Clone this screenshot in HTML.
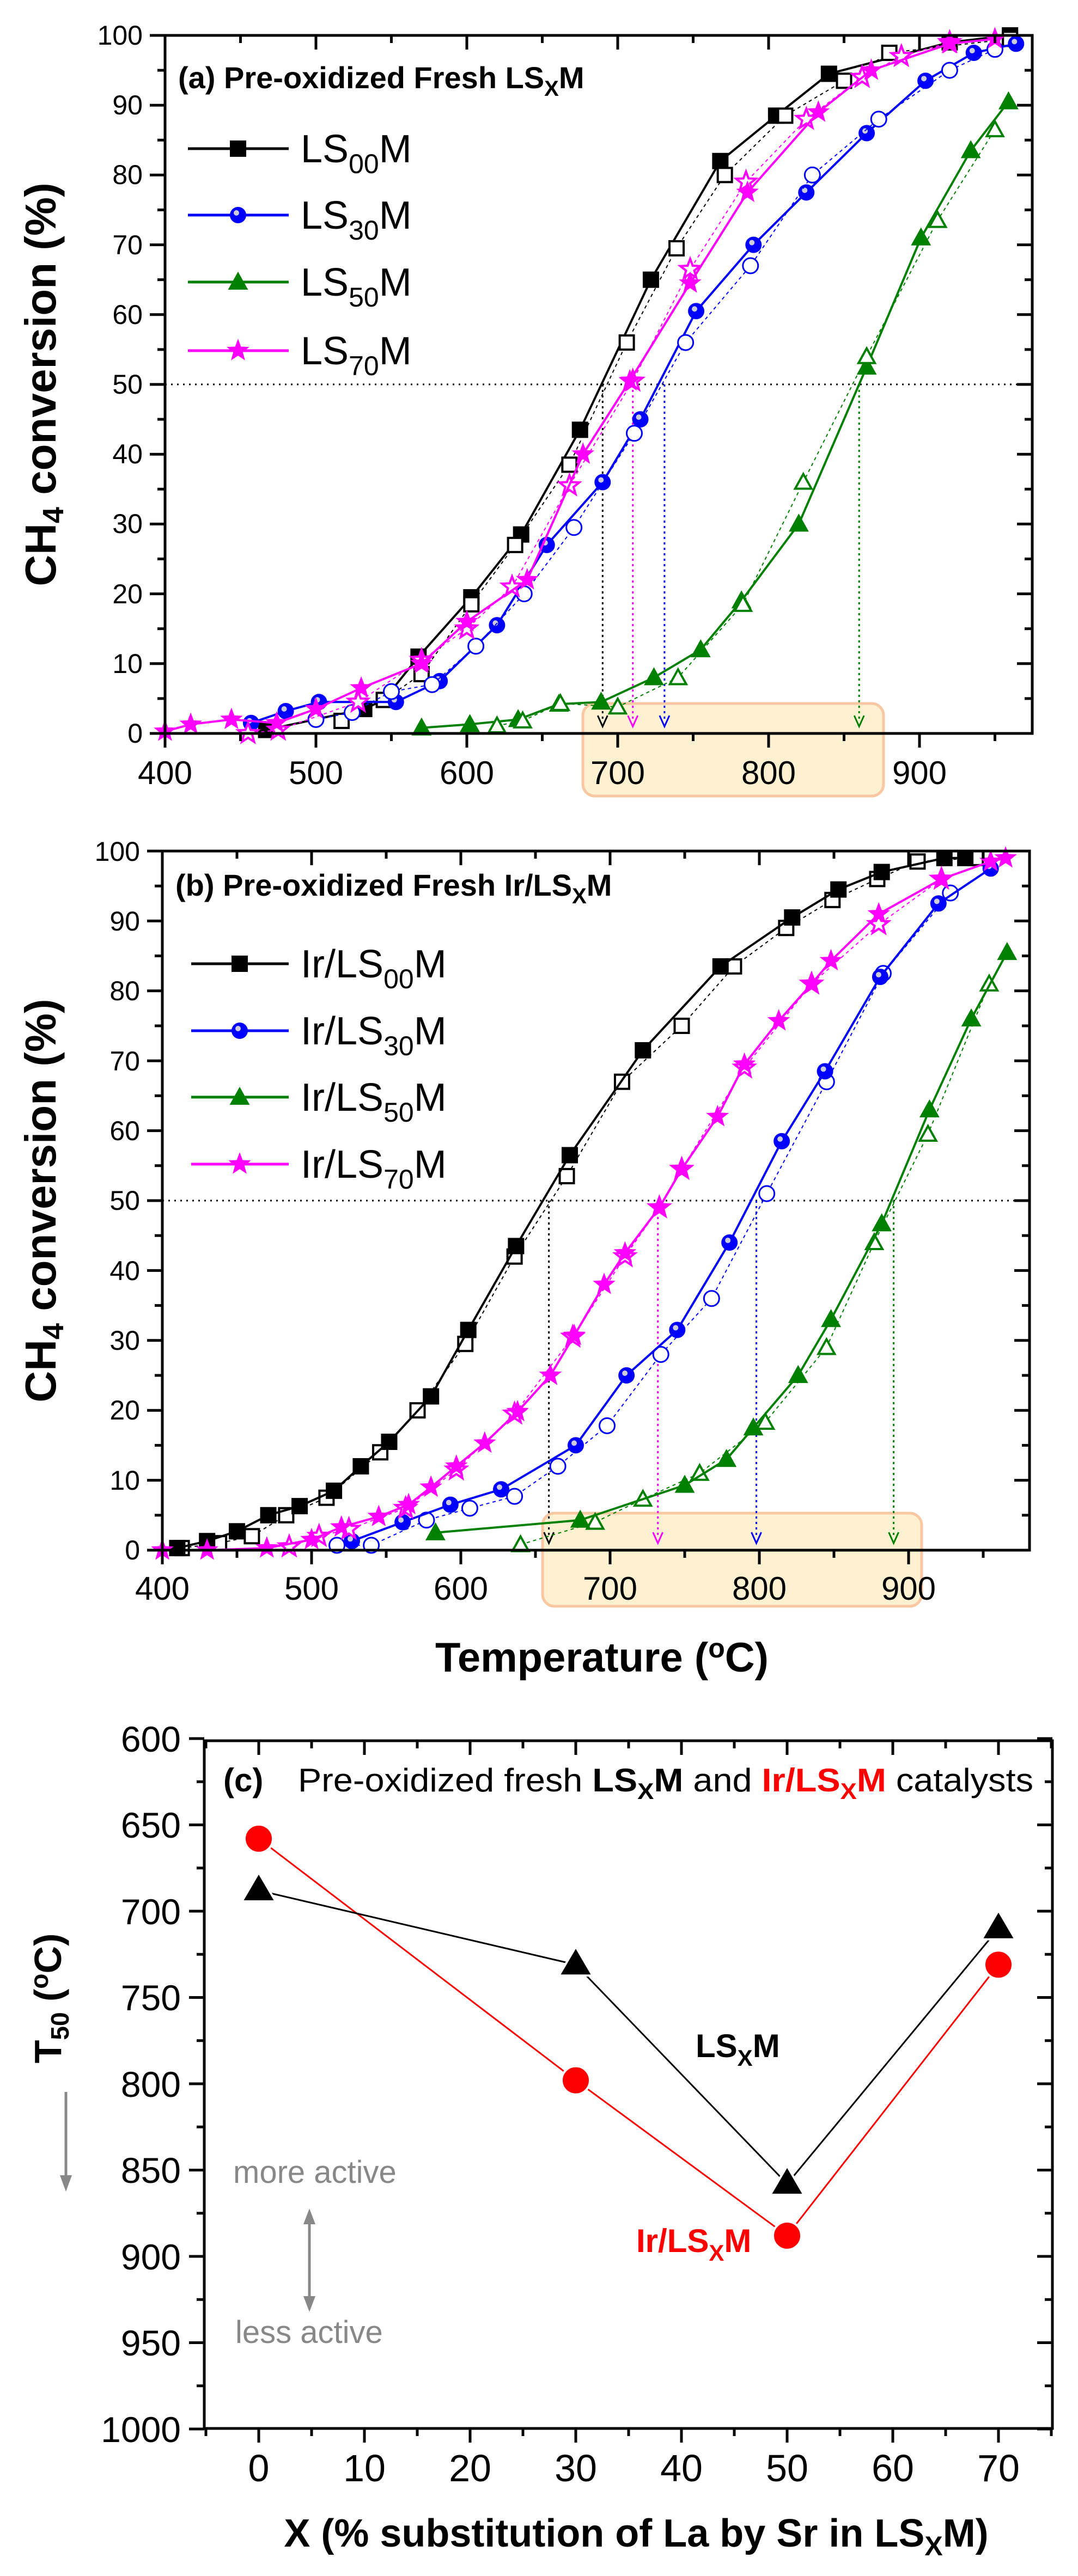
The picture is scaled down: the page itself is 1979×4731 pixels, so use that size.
<!DOCTYPE html>
<html><head><meta charset="utf-8"><style>
html,body{margin:0;padding:0;background:#fff;}
svg{display:block;font-family:"Liberation Sans",Arial,sans-serif;}
</style></head><body>
<svg id="s" width="1979" height="4731" viewBox="0 0 1979 4731" xmlns="http://www.w3.org/2000/svg">
<rect width="1979" height="4731" fill="#fff"/>
<rect x="1070" y="1292" width="552" height="170" rx="22" fill="#fdf1d2" stroke="#f9c8a3" stroke-width="5"/>
<rect x="996" y="2779" width="696" height="171" rx="22" fill="#fdf1d2" stroke="#f9c8a3" stroke-width="5"/>
<g id="ga"></g><g id="gb"></g><g id="gc"></g>

<g font-size="50" text-anchor="end">
<text x="262" y="1364">0</text><text x="262" y="1236">10</text><text x="262" y="1108">20</text><text x="262" y="979">30</text><text x="262" y="851">40</text><text x="262" y="723">50</text><text x="262" y="595">60</text><text x="262" y="467">70</text><text x="262" y="338">80</text><text x="262" y="210">90</text><text x="262" y="82">100</text>
</g>
<g font-size="60" text-anchor="middle">
<text x="303" y="1440">400</text><text x="580" y="1440">500</text><text x="857" y="1440">600</text><text x="1134" y="1440">700</text><text x="1411" y="1440">800</text><text x="1688" y="1440">900</text>
</g>
<text x="327" y="162" font-size="56" font-weight="bold">(a) Pre-oxidized Fresh LS<tspan font-size="40" dy="14">X</tspan><tspan dy="-14">M</tspan></text>
<g font-size="72">
<text x="552" y="298">LS<tspan font-size="50" dy="20">00</tspan><tspan dy="-20">M</tspan></text>
<text x="552" y="420">LS<tspan font-size="50" dy="20">30</tspan><tspan dy="-20">M</tspan></text>
<text x="552" y="543">LS<tspan font-size="50" dy="20">50</tspan><tspan dy="-20">M</tspan></text>
<text x="552" y="669">LS<tspan font-size="50" dy="20">70</tspan><tspan dy="-20">M</tspan></text>
</g>
<text transform="translate(102,706) rotate(-90)" text-anchor="middle" font-size="80" font-weight="bold">CH<tspan font-size="54" dy="14">4</tspan><tspan dy="-14"> conversion (%)</tspan></text>

<g font-size="50" text-anchor="end">
<text x="257" y="2864">0</text><text x="257" y="2736">10</text><text x="257" y="2607">20</text><text x="257" y="2479">30</text><text x="257" y="2351">40</text><text x="257" y="2222">50</text><text x="257" y="2094">60</text><text x="257" y="1966">70</text><text x="257" y="1837">80</text><text x="257" y="1709">90</text><text x="257" y="1581">100</text>
</g>
<g font-size="60" text-anchor="middle">
<text x="298" y="2938">400</text><text x="572" y="2938">500</text><text x="846" y="2938">600</text><text x="1120" y="2938">700</text><text x="1394" y="2938">800</text><text x="1668" y="2938">900</text>
</g>
<text x="322" y="1645" font-size="56" font-weight="bold">(b) Pre-oxidized Fresh Ir/LS<tspan font-size="40" dy="14">X</tspan><tspan dy="-14">M</tspan></text>
<g font-size="72">
<text x="552" y="1795">Ir/LS<tspan font-size="50" dy="20">00</tspan><tspan dy="-20">M</tspan></text>
<text x="552" y="1918">Ir/LS<tspan font-size="50" dy="20">30</tspan><tspan dy="-20">M</tspan></text>
<text x="552" y="2040">Ir/LS<tspan font-size="50" dy="20">50</tspan><tspan dy="-20">M</tspan></text>
<text x="552" y="2163">Ir/LS<tspan font-size="50" dy="20">70</tspan><tspan dy="-20">M</tspan></text>
</g>
<text transform="translate(102,2205) rotate(-90)" text-anchor="middle" font-size="80" font-weight="bold">CH<tspan font-size="54" dy="14">4</tspan><tspan dy="-14"> conversion (%)</tspan></text>
<text x="1105" y="3070" text-anchor="middle" font-size="76" font-weight="bold">Temperature (<tspan font-size="50" dy="-26">o</tspan><tspan dy="26">C)</tspan></text>

<g font-size="66" text-anchor="end">
<text x="332" y="3217">600</text><text x="332" y="3375">650</text><text x="332" y="3534">700</text><text x="332" y="3692">750</text><text x="332" y="3851">800</text><text x="332" y="4009">850</text><text x="332" y="4168">900</text><text x="332" y="4326">950</text><text x="332" y="4485">1000</text>
</g>
<g font-size="70" text-anchor="middle">
<text x="475" y="4557">0</text><text x="669" y="4557">10</text><text x="863" y="4557">20</text><text x="1057" y="4557">30</text><text x="1251" y="4557">40</text><text x="1445" y="4557">50</text><text x="1639" y="4557">60</text><text x="1833" y="4557">70</text>
</g>
<text x="1168" y="4677" text-anchor="middle" font-size="72" font-weight="bold">X (% substitution of La by Sr in LS<tspan font-size="50" dy="16">X</tspan><tspan dy="-16">M)</tspan></text>
<text x="410" y="3290" font-size="60" font-weight="bold">(c)</text>
<text x="547" y="3290" font-size="60" textLength="1350" lengthAdjust="spacingAndGlyphs">Pre-oxidized fresh <tspan font-weight="bold">LS</tspan><tspan font-weight="bold" font-size="42" dy="14">X</tspan><tspan font-weight="bold" dy="-14">M</tspan> and <tspan font-weight="bold" fill="#f00">Ir/LS</tspan><tspan font-weight="bold" fill="#f00" font-size="42" dy="14">X</tspan><tspan font-weight="bold" fill="#f00" dy="-14">M</tspan> catalysts</text>
<text x="1277" y="3778" font-size="60" font-weight="bold">LS<tspan font-size="42" dy="16">X</tspan><tspan dy="-16">M</tspan></text>
<text x="1168" y="4136" font-size="60" font-weight="bold" fill="#f00">Ir/LS<tspan font-size="42" dy="16">X</tspan><tspan dy="-16">M</tspan></text>
<text x="428" y="4009" font-size="58" fill="#888">more active</text>
<text x="432" y="4303" font-size="58" fill="#888">less active</text>
<text transform="translate(112,3670) rotate(-90)" text-anchor="middle" font-size="70" font-weight="bold">T<tspan font-size="46" dy="14">50</tspan><tspan dy="-14"> (</tspan><tspan font-size="46" dy="-24">o</tspan><tspan dy="24">C)</tspan></text>
<g stroke="#888" stroke-width="5" fill="#888">
<line x1="121" y1="3842" x2="121" y2="4000"/><polygon points="110,3995 132,3995 121,4025" stroke="none"/>
<line x1="568" y1="4080" x2="568" y2="4222"/><polygon points="557,4085 579,4085 568,4056" stroke="none"/><polygon points="557,4217 579,4217 568,4246" stroke="none"/>
</g>
</svg>
<script>
var NS="http://www.w3.org/2000/svg";
function el(g,n,a){var e=document.createElementNS(NS,n);for(var k in a)e.setAttribute(k,a[k]);g.appendChild(e);return e;}
function axes(g,L,T,R,B,xs,ys){
 el(g,'rect',{x:L,y:T,width:R-L,height:B-T,fill:'none',stroke:'#000','stroke-width':5});
 xs.forEach(function(t){var x=t[0],m=t[1];var l=m?26:14;
  el(g,'line',{x1:x,y1:B,x2:x,y2:B+l,stroke:'#000','stroke-width':5});
  el(g,'line',{x1:x,y1:T,x2:x,y2:T+l,stroke:'#000','stroke-width':5});});
 ys.forEach(function(t){var y=t[0],m=t[1];var l=m?28:14;
  el(g,'line',{x1:L-l,y1:y,x2:L,y2:y,stroke:'#000','stroke-width':5});
  el(g,'line',{x1:R-l,y1:y,x2:R,y2:y,stroke:'#000','stroke-width':5});});
}
function marker(g,type,x,y,c,filled){
 var sw=4;
 if(type=='sq'){el(g,'rect',{x:x-13,y:y-13,width:26,height:26,fill:filled?c:'#fff',stroke:c,'stroke-width':sw});}
 else if(type=='ci'){ if(filled){el(g,'circle',{cx:x,cy:y,r:15,fill:c});el(g,'circle',{cx:x-3,cy:y-4,r:5,fill:'#ccd'});}
  else el(g,'circle',{cx:x,cy:y,r:14,fill:'#fff',stroke:c,'stroke-width':3});}
 else if(type=='tr'){el(g,'polygon',{points:(x-15)+','+(y+12)+' '+(x+15)+','+(y+12)+' '+x+','+(y-15),fill:filled?c:'#fff',stroke:c,'stroke-width':sw});}
 else if(type=='st'){var p=[];for(var i=0;i<10;i++){var r=i%2?8:19,a=-Math.PI/2+i*Math.PI/5;p.push((x+r*Math.cos(a)).toFixed(1)+','+(y+r*Math.sin(a)).toFixed(1));}
  el(g,'polygon',{points:p.join(' '),fill:filled?c:'#fff',stroke:c,'stroke-width':filled?2:4});}
}
function series(g,X,Y,d,type,c,filled){
 var pts=d.map(function(p){return X(p[0]).toFixed(1)+','+Y(p[1]).toFixed(1);}).join(' ');
 el(g,'polyline',{points:pts,fill:'none',stroke:c,'stroke-width':filled?4:2,'stroke-dasharray':filled?'none':'6,6'});
 d.forEach(function(p){marker(g,type,X(p[0]),Y(p[1]),c,filled);});
}
function arrow(g,x,y1,y2,c){
 el(g,'line',{x1:x,y1:y1,x2:x,y2:y2-10,stroke:c,'stroke-width':3,'stroke-dasharray':'4,6'});
 el(g,'polyline',{points:(x-9)+','+(y2-20)+' '+x+','+y2+' '+(x+9)+','+(y2-20),fill:'none',stroke:c,'stroke-width':3});
}
var K='#000',B='#0000ff',G='#008000',M='#ff00ff';
(function(){var g=document.getElementById('ga');
 var X=function(t){return 303+(t-400)*2.77},Y=function(p){return 1347-p*12.82};
 var xs=[],ys=[];for(var t=400;t<=950;t+=50)xs.push([X(t),t%100==0]);for(var p=0;p<=100;p+=5)ys.push([Y(p),p%10==0]);
 el(g,'line',{x1:303,y1:Y(50),x2:1895,y2:Y(50),stroke:'#000','stroke-width':3,'stroke-dasharray':'3,8'});
 arrow(g,X(690),Y(50),Y(1),K);arrow(g,X(710),Y(50),Y(1),M);arrow(g,X(731),Y(50),Y(1),B);arrow(g,X(860),Y(50),Y(1),G);
 series(g,X,Y,[[467,0.5],[532,3.5],[545,4.8],[568,11],[603,19.5],[636,28.5],[675,43.5],[722,65],[768,82],[805,88.5],[840,94.5],[920,99],[960,100]],'sq',K,true);
 series(g,X,Y,[[517,1.8],[545,4.8],[570,8.5],[603,18.5],[632,27],[668,38.5],[706,56],[739,69.5],[771,80],[811,88.5],[850,93.5],[880,97.5],[960,99.5]],'sq',K,false);
 series(g,X,Y,[[457,1.5],[480,3.2],[502,4.5],[553,4.5],[582,7.5],[620,15.5],[653,27],[690,36],[715,45],[752,60.5],[790,70],[825,77.5],[865,86],[904,93.5],[936,97.5],[964,98.8]],'ci',B,true);
 series(g,X,Y,[[500,2],[524,3],[550,6],[577,7],[606,12.5],[638,20],[671,29.5],[711,43],[745,56],[788,67],[829,80],[873,88],[920,95],[950,98]],'ci',B,false);
 series(g,X,Y,[[570,0.8],[602,1.3],[634,2],[661,4.2],[689,4.5],[724,8],[755,12],[782,19],[820,30],[865,52.5],[901,71],[934,83.5],[959,90.5]],'tr',G,true);
 series(g,X,Y,[[620,1.1],[637,1.8],[662,4.3],[700,3.8],[740,8],[783,18.5],[823,36],[865,54],[912,73.5],[950,86.5]],'tr',G,false);
 series(g,X,Y,[[455,0],[475,0.5],[528,4.5],[570,10.5],[600,15],[630,21],[668,35.5],[710,50.5],[748,66.5],[785,79],[825,88],[862,94],[888,97],[920,99]],'st',M,false);
 series(g,X,Y,[[400,0.3],[417,1.3],[444,2],[474,1.5],[500,3.5],[530,6.5],[570,10],[600,16],[640,22],[677,40],[708,50.5],[748,64.5],[786,77.5],[833,89],[868,95],[920,98.8],[950,99.5]],'st',M,true);
 axes(g,303,65,1895,1347,xs,ys);
 [[273,'sq',K],[395,'ci',B],[518,'tr',G],[644,'st',M]].forEach(function(l){el(g,'line',{x1:345,y1:l[0],x2:530,y2:l[0],stroke:l[2],'stroke-width':5});marker(g,l[1],437,l[0],l[2],true);});
})();
(function(){var g=document.getElementById('gb');
 var X=function(t){return 298+(t-400)*2.74},Y=function(p){return 2847-p*12.84};
 var xs=[],ys=[];for(var t=400;t<=950;t+=50)xs.push([X(t),t%100==0]);for(var p=0;p<=100;p+=5)ys.push([Y(p),p%10==0]);
 el(g,'line',{x1:298,y1:Y(50),x2:1890,y2:Y(50),stroke:'#000','stroke-width':3,'stroke-dasharray':'3,8'});
 arrow(g,X(659),Y(50),Y(1),K);arrow(g,X(732),Y(50),Y(1),M);arrow(g,X(798),Y(50),Y(1),B);arrow(g,X(890),Y(50),Y(1),G);
 series(g,X,Y,[[413,0.3],[438,1],[460,2],[483,5],[510,7.5],[546,14],[571,20],[603,29.5],[636,42],[671,53.5],[708,67],[748,75],[783,83.5],[818,89],[849,93],[879,96],[906,98.5],[945,99]],'sq',K,false);
 series(g,X,Y,[[410,0.3],[430,1.3],[450,2.7],[471,5],[492,6.3],[515,8.5],[533,12],[552,15.5],[580,22],[605,31.5],[637,43.5],[673,56.5],[722,71.5],[774,83.5],[822,90.5],[853,94.5],[882,97],[924,99],[938,99]],'sq',K,true);
 series(g,X,Y,[[517,0.7],[540,0.7],[577,4.3],[606,6],[636,7.7],[665,12],[698,17.8],[734,28],[768,36],[805,51],[845,67],[883,82.5],[928,94]],'ci',B,false);
 series(g,X,Y,[[527,1.3],[561,4],[593,6.5],[627,8.7],[677,15],[711,25],[745,31.5],[780,44],[815,58.5],[844,68.5],[881,82],[920,92.5],[955,97.5]],'ci',B,true);
 series(g,X,Y,[[640,0.8],[690,4],[722,7.3],[760,11],[804,18.3],[845,29],[877,44],[913,59.5],[954,81]],'tr',G,false);
 series(g,X,Y,[[583,2.5],[680,4.3],[750,9.3],[778,13],[796,17.5],[826,25],[848,33],[882,46.7],[914,63],[942,76],[966,85.5]],'tr',G,true);
 series(g,X,Y,[[485,0.5],[505,2],[525,3],[563,6],[597,11.5],[636,19.5],[675,30.5],[710,42],[733,49],[748,54.5],[790,69],[835,81],[880,89.5],[922,96]],'st',M,false);
 series(g,X,Y,[[400,0],[430,0],[470,0.3],[500,1.5],[520,3.3],[545,4.8],[565,6.5],[580,9],[597,12],[616,15.3],[638,19.8],[660,25],[676,30.7],[696,38],[710,42.5],[733,49],[748,54.5],[772,62],[790,69.5],[813,75.7],[835,81],[848,84.3],[880,91],[922,96],[955,98.5],[965,99]],'st',M,true);
 axes(g,298,1563,1890,2847,xs,ys);
 [[1770,'sq',K],[1893,'ci',B],[2015,'tr',G],[2138,'st',M]].forEach(function(l){el(g,'line',{x1:351,y1:l[0],x2:530,y2:l[0],stroke:l[2],'stroke-width':5});marker(g,l[1],440,l[0],l[2],true);});
})();
(function(){var g=document.getElementById('gc');
 var X=function(x){return 475+x*19.4},Y=function(t){return 3193+(t-600)*3.17};
 var xs=[],ys=[];for(var x=-5;x<=75;x+=5)xs.push([X(x),x%10==0]);for(var t=600;t<=1000;t+=25)ys.push([Y(t),t%50==0]);
 axes(g,375,3197,1932,4460,xs,ys);
 var r=[[0,658],[30,798],[50,888],[70,731]],b=[[0,688],[30,731],[50,858],[70,710]];
 el(g,'polyline',{points:r.map(function(p){return X(p[0])+','+Y(p[1])}).join(' '),fill:'none',stroke:'#f00','stroke-width':3});
 el(g,'polyline',{points:b.map(function(p){return X(p[0])+','+Y(p[1])}).join(' '),fill:'none',stroke:'#000','stroke-width':3});
 r.forEach(function(p){el(g,'circle',{cx:X(p[0]),cy:Y(p[1]),r:26,fill:'#f00',stroke:'#fff','stroke-width':4});});
 b.forEach(function(p){var x=X(p[0]),y=Y(p[1]);el(g,'polygon',{points:(x-31)+','+(y+20)+' '+(x+31)+','+(y+20)+' '+x+','+(y-33),fill:'#000',stroke:'#fff','stroke-width':4});});
})();
</script>
</body></html>
